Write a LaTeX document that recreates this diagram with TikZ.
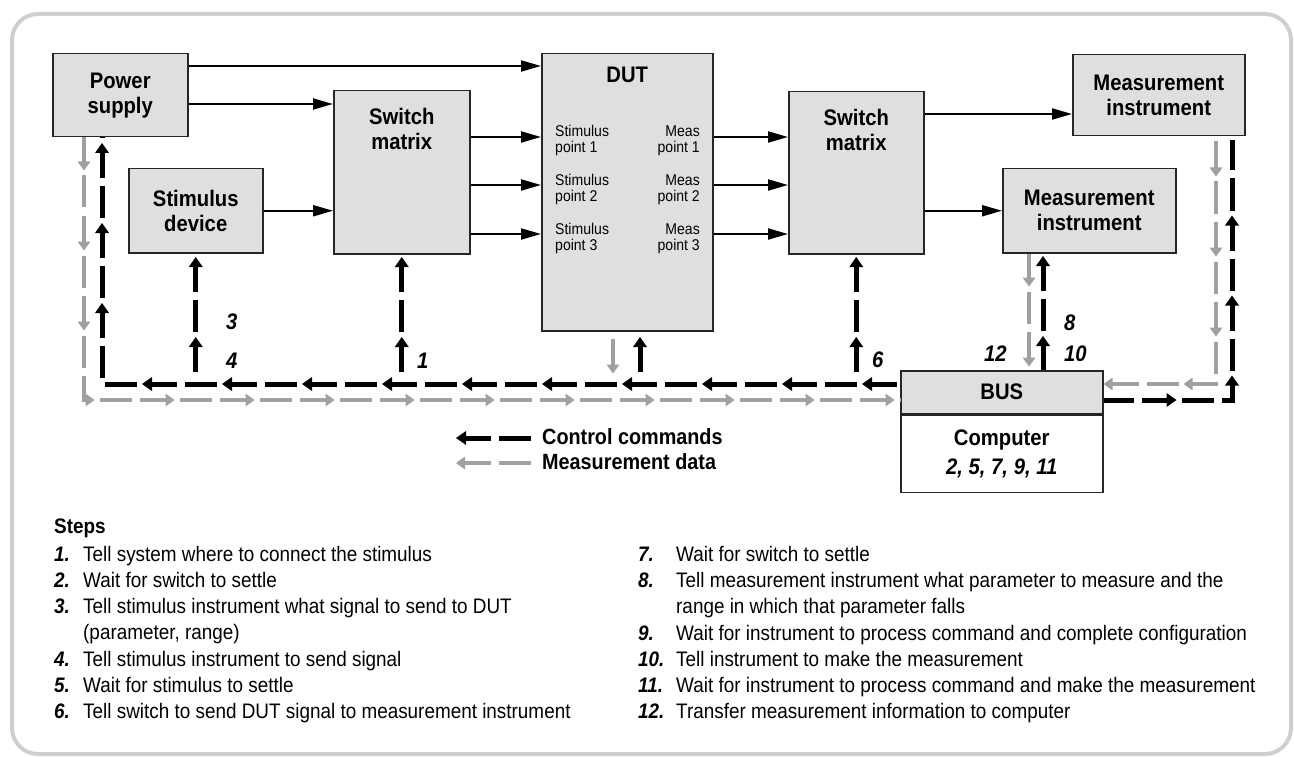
\documentclass[tikz,border=0pt]{standalone}
\usepackage{fontspec}
\setmainfont{Liberation Sans}[FakeStretch=0.9]
\usetikzlibrary{positioning,calc,arrows.meta,decorations.markings}

\definecolor{boxgray}{HTML}{DFDFDF}
\definecolor{datagray}{HTML}{A0A0A0}
\definecolor{framegray}{HTML}{CFCFCF}

\tikzset{
  box/.style={draw=black!85, line width=1.5pt, fill=boxgray, inner sep=0pt, anchor=north west,
    align=center, font=\fontsize{22.5}{25}\selectfont\bfseries},
  lbl/.style={inner sep=0pt, align=center, font=\fontsize{22.5}{25}\selectfont\bfseries},
  inner/.style={inner sep=0pt, font=\fontsize{15.6}{16}\selectfont},
  busnum/.style={inner sep=0pt, anchor=base west, font=\fontsize{22.5}{25}\selectfont\bfseries\itshape},
  sig/.style={line width=2pt, -{Triangle[length=20pt,width=11pt]}},
  % dashed bus line, #1 = dash phase, #2 = distance of first tip
  ctrl/.style 2 args={draw=black, line width=5pt,
    dash pattern=on 30pt off 10pt on 32pt off 8pt, dash phase=#1pt,
    postaction={decorate, decoration={markings,
      mark=between positions #2pt and 1 step 80pt with {\fill[black] (0pt,0pt) -- (-10pt,7pt) -- (-10pt,-7pt) -- cycle;}}}},
  data/.style 2 args={draw=datagray, line width=4pt,
    dash pattern=on 30pt off 10pt on 32pt off 8pt, dash phase=#1pt,
    postaction={decorate, decoration={markings,
      mark=between positions #2pt and 1 step 80pt with {\fill[datagray] (0pt,0pt) -- (-9pt,6.5pt) -- (-9pt,-6.5pt) -- cycle;}}}},
  head/.style={inner sep=0pt, anchor=base west, font=\fontsize{21}{26}\selectfont\bfseries},
  stepnum/.style={inner sep=0pt, anchor=base west, font=\fontsize{21}{26}\selectfont\bfseries\itshape},
  steptxt/.style={inner sep=0pt, anchor=base west, align=left, font=\fontsize{21}{26}\selectfont},
}

\begin{document}
\begin{tikzpicture}[x=1pt,y=-1pt]
\useasboundingbox (0,0) rectangle (1294,757);
\draw[framegray, line width=4pt, rounded corners=26pt] (12,14) rectangle (1291,754);

% blocks
\node[box, minimum width=135pt, minimum height=83pt] (power) at (52,53) {Power\\supply};
\node[box, minimum width=134pt, minimum height=84pt] (stim) at (128,168) {Stimulus\\device};
\node[box, minimum width=136pt, minimum height=163pt] (sw1) at (333,90) {};
\node[box, minimum width=171pt, minimum height=277pt] (dut) at (541,53) {};
\node[box, minimum width=135pt, minimum height=162pt] (sw2) at (788,91) {};
\node[box, minimum width=172pt, minimum height=81pt] (mi1) at (1072,54) {Measurement\\instrument};
\node[box, minimum width=173pt, minimum height=84pt] (mi2) at (1002,168) {Measurement\\instrument};
\node[box, minimum width=202pt, minimum height=43pt] (bus) at (900,370) {BUS};
\node[box, fill=white, minimum width=202pt, minimum height=77pt, below=0pt of bus] (comp) {Computer\\[4pt]\textit{2, 5, 7, 9, 11}};

\node[lbl, below=18pt of sw1.north] (sw1t) {Switch\\matrix};
\node[lbl, below=14pt of dut.north] (dutt) {DUT};
\node[lbl, below=18pt of sw2.north] (sw2t) {Switch\\matrix};

% signal paths
\coordinate (ps1) at (0,66);
\coordinate (ps2) at (0,104);
\coordinate (o1) at (0,114);
\draw[sig] (power.east |- ps1) -- (dut.west |- ps1);
\draw[sig] (power.east |- ps2) -- (sw1.west |- ps2);
\draw[sig] (stim.east) -- (stim.east -| sw1.west);
\foreach \i/\y in {1/137,2/185,3/234} {
  \coordinate (row\i) at (0,\y);
  \node[inner, anchor=base west, align=left] (sp\i) at (555,\y+16) {Stimulus\\point \i};
  \node[inner, anchor=base east, align=right] (mp\i) at (700,\y+16) {Meas\\point \i};
  \draw[sig] (sw1.east |- row\i) -- (dut.west |- row\i);
  \draw[sig] (dut.east |- row\i) -- (sw2.west |- row\i);
}
\draw[sig] (sw2.east |- o1) -- (mi1.west |- o1);
\draw[sig] (sw2.east |- mi2.west) -- (mi2.west);

% bus corners
\coordinate (cl) at (102,384);
\coordinate (dl) at (84,400);
\coordinate (cr) at (1232,400);
\coordinate (dr) at (1216,384);
\coordinate (bt) at (0,372);
\coordinate (mg) at (1029,0);
\coordinate (mc) at (1043,0);
\coordinate (dg) at (613,376);
\coordinate (dc) at (640,372);

% control commands
\draw[ctrl={77}{38}] (bus.west |- cl) -- (cl);
\draw[ctrl={32}{83}] ($(cl)+(0,2)$) -- (cl |- power.south);
\draw[ctrl={0}{35}] (stim.south |- bt) -- (stim.south);
\draw[ctrl={0}{35}] (sw1.south |- bt) -- (sw1.south);
\draw[ctrl={0}{35}] (sw2.south |- bt) -- (sw2.south);
\draw[ctrl={0}{35}] (dc) -- ($(dc |- dut.south)+(0,3)$);
\draw[ctrl={1}{34}] (mc |- bus.north) -- (mc |- mi2.south);
\draw[ctrl={42}{73}] (cr -| bus.east) -- (cr) -- (cr |- mi1.south);

% measurement data
\draw[data={2}{33}] (dl |- power.south) -- (dl) -- (dl -| bus.west);
\draw[data={0}{35}] ($(dg |- dut.south)+(0,7)$) -- (dg);
\draw[data={2}{33}] (mg |- mi2.south) -- (mg |- bus.north);
\draw[data={75}{40}] (dr |- mi1.south) -- (dr) -- (dr -| bus.east);

% step numbers on the bus
\node[busnum] (l3) at (226,329) {3};
\node[busnum] (l4) at (226,368) {4};
\node[busnum] (l1) at (417,368) {1};
\node[busnum] (l6) at (872,367) {6};
\node[busnum] (l12) at (984,361) {12};
\node[busnum] (l8) at (1064,330) {8};
\node[busnum] (l10) at (1064,361) {10};

% legend
\node[lbl, anchor=base west, font=\fontsize{22}{25}\selectfont\bfseries] (ctrltxt) at (542,444) {Control commands};
\node[lbl, anchor=base west, font=\fontsize{22}{25}\selectfont\bfseries] (datatxt) at (542,469) {Measurement data};
\coordinate (lc) at (532,438);
\coordinate (ld) at (532,463);
\draw[ctrl={39}{76}] (lc) -- ++(-77,0);
\draw[data={39}{76}] (ld) -- ++(-77,0);

% steps
\node[head] (steps) at (54,533) {Steps};
\foreach \n/\xa/\xb/\y/\yt/\t in {
  1/54/83/561/561/{Tell system where to connect the stimulus},
  2/54/83/587/587/{Wait for switch to settle},
  3/54/83/613/639/{Tell stimulus instrument what signal to send to DUT\\(parameter, range)},
  4/54/83/666/666/{Tell stimulus instrument to send signal},
  5/54/83/692/692/{Wait for stimulus to settle},
  6/54/83/718/718/{Tell switch to send DUT signal to measurement instrument},
  7/638/676/561/561/{Wait for switch to settle},
  8/638/676/587/613/{Tell measurement instrument what parameter to measure and the\\range in which that parameter falls},
  9/638/676/640/640/{Wait for instrument to process command and complete configuration},
  10/638/676/666/666/{Tell instrument to make the measurement},
  11/638/676/692/692/{Wait for instrument to process command and make the measurement},
  12/638/676/718/718/{Transfer measurement information to computer}} {
  \node[stepnum] (sn\n) at (\xa,\y) {\n.};
  \node[steptxt] (st\n) at (\xb,\yt) {\t};
}
\end{tikzpicture}
\end{document}
